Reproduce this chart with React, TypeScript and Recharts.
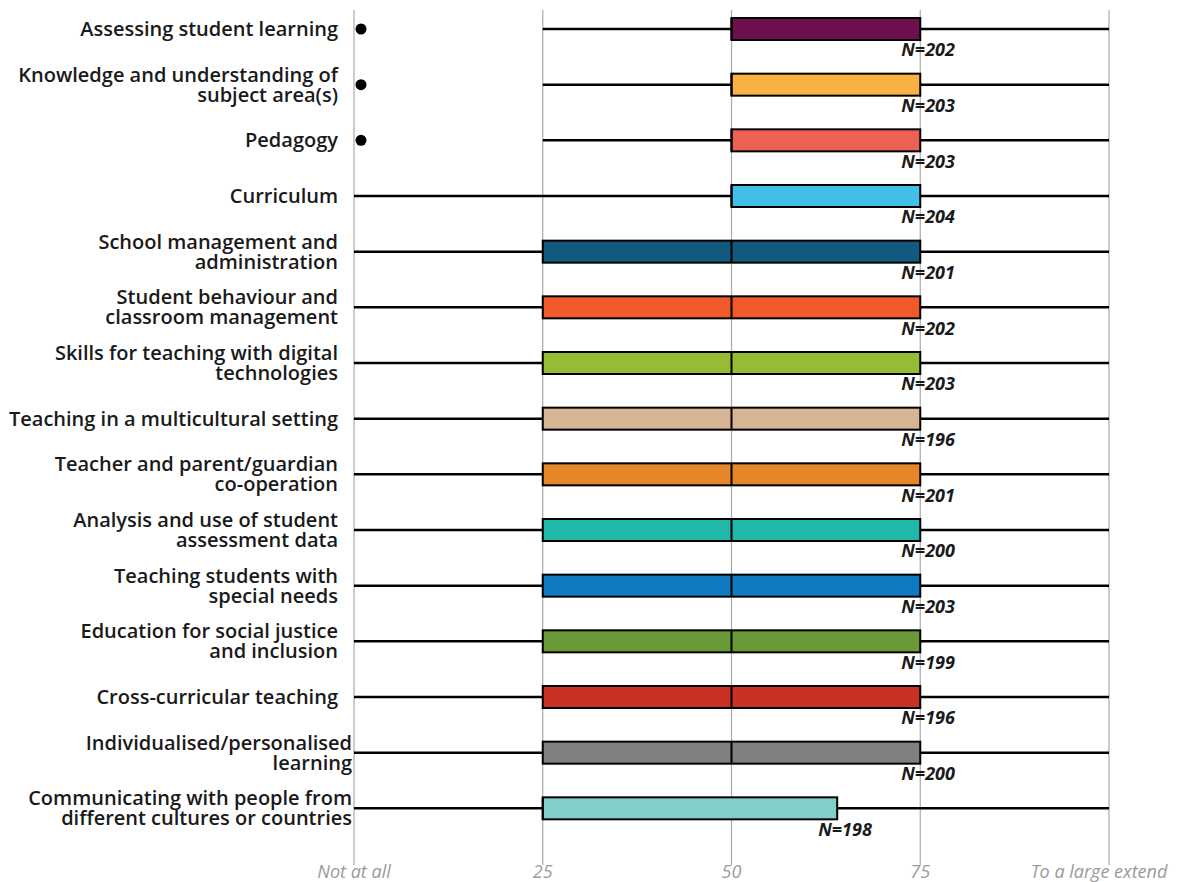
import { ComposedChart, Bar, XAxis, YAxis, CartesianGrid, LabelList } from 'recharts'

// categories top → bottom, "\n" marks the line break used in the original
const categories = [
  'Assessing student learning',
  'Knowledge and understanding of\nsubject area(s)',
  'Pedagogy',
  'Curriculum',
  'School management and\nadministration',
  'Student behaviour and\nclassroom management',
  'Skills for teaching with digital\ntechnologies',
  'Teaching in a multicultural setting',
  'Teacher and parent/guardian\nco-operation',
  'Analysis and use of student\nassessment data',
  'Teaching students with\nspecial needs',
  'Education for social justice\nand inclusion',
  'Cross-curricular teaching',
  'Individualised/personalised\nlearning',
  'Communicating with people from\ndifferent cultures or countries',
]

const mins = [25, 25, 25, 0, 0, 0, 0, 0, 0, 0, 0, 0, 0, 0, 0]
const q1s = [50, 50, 50, 50, 25, 25, 25, 25, 25, 25, 25, 25, 25, 25, 25]
const medians = [50, 50, 50, 50, 50, 50, 50, 50, 50, 50, 50, 50, 50, 50, 25]
const q3s = [75, 75, 75, 75, 75, 75, 75, 75, 75, 75, 75, 75, 75, 75, 64]
const maxs = [100, 100, 100, 100, 100, 100, 100, 100, 100, 100, 100, 100, 100, 100, 100]
const outliers: (number | null)[] = [0, 0, 0, null, null, null, null, null, null, null, null, null, null, null, null]
const counts = [202, 203, 203, 204, 201, 202, 203, 196, 201, 200, 203, 199, 196, 200, 198]

const xTicks = [0, 25, 50, 75, 100]
const xTickLabels: Record<number, string> = {
  0: 'Not at all',
  25: '25',
  50: '50',
  75: '75',
  100: 'To a large extend',
}

const palette = [
  '#6b104d', '#f9b143', '#ec6154', '#41bfe8', '#115a7e',
  '#f05a2a', '#94bd35', '#d6b494', '#e5862a', '#20b8a8',
  '#0f79c2', '#6a9a38', '#c93127', '#808080', '#82cfca',
]

const data = categories.map((name, i) => ({
  name,
  min: mins[i],
  q1: q1s[i],
  med: medians[i],
  q3: q3s[i],
  max: maxs[i],
  out: outliers[i],
  n: `N=${counts[i]}`,
}))

// the two longest labels run past the usual right edge in the original
const overflowLabels = new Set([13, 14])

const CategoryTick = (props: any) => {
  const { x, y, payload, index } = props
  const lines = String(payload.value).split('\n')
  const right = x - 16 + (overflowLabels.has(index) ? 14 : 0)
  const offsets = lines.length === 1 ? [0] : [-10, 10]
  return (
    <g>
      {lines.map((line, i) => (
        <text
          key={i}
          x={right}
          y={y + offsets[i]}
          dy="0.35em"
          textAnchor="end"
          fontFamily="'Open Sans', sans-serif"
          fontWeight={600}
          fontSize={20}
          fill="#1a1a1a"
        >
          {line}
        </text>
      ))}
    </g>
  )
}

const ValueTick = (props: any) => {
  const { x, y, payload } = props
  const shift = payload.value === 100 ? -10 : 0
  return (
    <text
      x={x + shift}
      y={y + 36}
      dy="0.35em"
      textAnchor="middle"
      fontFamily="'Liberation Sans Narrow', 'Open Sans', sans-serif"
      fontStyle="italic"
      fontSize={18}
      fill="#9a9a9a"
    >
      {xTickLabels[payload.value]}
    </text>
  )
}

const Whisker = (props: any) => {
  const { x, y, width, height } = props
  if (!Number.isFinite(x) || !Number.isFinite(width)) return null
  const cy = y + height / 2
  return <line x1={x} x2={x + width} y1={cy} y2={cy} stroke="#000" strokeWidth={2.5} />
}

const BoxShape = (props: any) => {
  const { x, y, width, height, index } = props
  if (!Number.isFinite(x) || !Number.isFinite(width)) return null
  return (
    <rect
      x={x}
      y={y}
      width={width}
      height={height}
      fill={palette[index]}
      stroke="#000"
      strokeWidth={2}
    />
  )
}

const MedianShape = (props: any) => {
  const { x, y, width, height } = props
  if (!Number.isFinite(x) || !Number.isFinite(width)) return null
  return <line x1={x + width} x2={x + width} y1={y} y2={y + height} stroke="#000" strokeWidth={2} />
}

const OutlierShape = (props: any) => {
  const { x, y, height, payload } = props
  if (payload == null || payload.out == null || !Number.isFinite(x)) return null
  return <circle cx={x + 7} cy={y + height / 2} r={5.5} fill="#000" />
}

const CountLabel = (props: any) => {
  const { x, y, width, height, value } = props
  return (
    <text
      x={x + width - 19}
      y={y + height + 10}
      dy="0.35em"
      textAnchor="start"
      fontFamily="'Open Sans', sans-serif"
      fontStyle="italic"
      fontWeight={700}
      fontSize={18}
      fill="#1a1a1a"
    >
      {value}
    </text>
  )
}

export default function App() {
  return (
    <div style={{ position: 'absolute', left: 0, top: 0, width: 1185, height: 882, background: '#fff' }}>
      <ComposedChart
        width={1185}
        height={882}
        data={data}
        layout="vertical"
        margin={{ top: 1, right: 76, bottom: 0, left: 0 }}
        barSize={22}
        barGap={-22}
      >
        <CartesianGrid horizontal={false} y={10} height={855} stroke="#aaaaaa" strokeWidth={1.2} />
        <XAxis
          type="number"
          domain={[0, 100]}
          ticks={xTicks}
          height={46}
          tickLine={false}
          axisLine={false}
          tickSize={0}
          tickMargin={0}
          tick={<ValueTick />}
          interval={0}
        />
        <YAxis
          type="category"
          dataKey="name"
          width={354}
          tickLine={false}
          axisLine={false}
          tickSize={0}
          tickMargin={0}
          interval={0}
          tick={<CategoryTick />}
        />
        <Bar dataKey={(d: any) => [d.min, d.max]} shape={<Whisker />} isAnimationActive={false} />
        <Bar dataKey={(d: any) => [d.q1, d.q3]} shape={<BoxShape />} isAnimationActive={false}>
          <LabelList dataKey="n" content={<CountLabel />} />
        </Bar>
        <Bar dataKey={(d: any) => [d.q1, d.med]} shape={<MedianShape />} isAnimationActive={false} />
        <Bar
          dataKey={(d: any) => (d.out == null ? null : [d.out, d.out])}
          shape={<OutlierShape />}
          isAnimationActive={false}
        />
      </ComposedChart>
    </div>
  )
}
